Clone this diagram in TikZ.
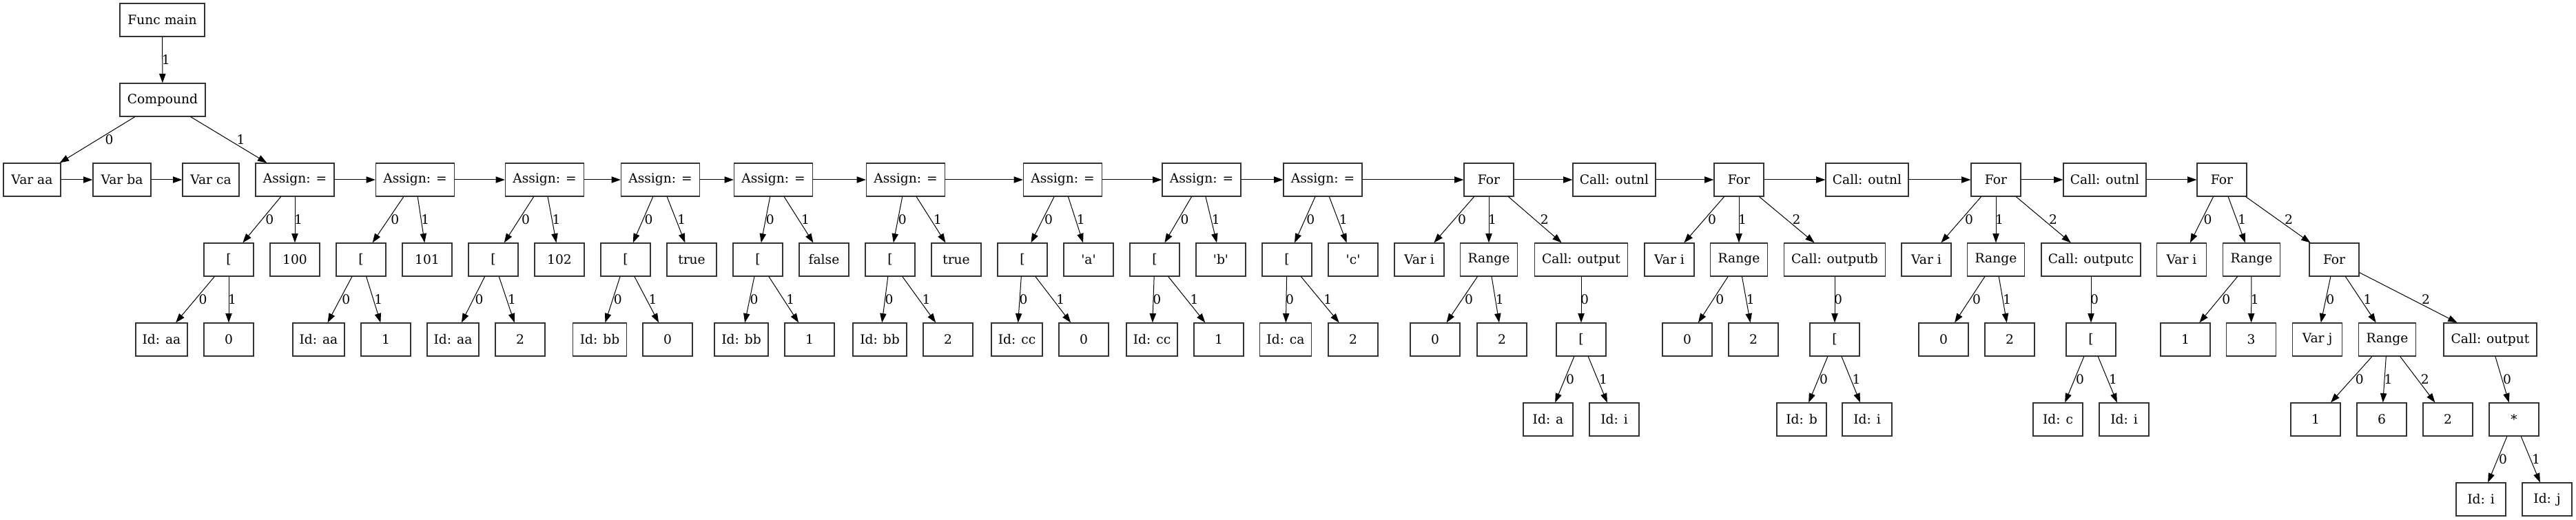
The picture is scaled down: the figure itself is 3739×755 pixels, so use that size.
\documentclass[tikz,border=0pt]{standalone}
\usepackage{fontspec}
\setmainfont{DejaVu Serif}[Ligatures=TeXOff]
\usetikzlibrary{arrows.meta,calc}
\tikzset{
  bx/.style={draw=black!80, line width=0.9pt, minimum height=36pt, minimum width={#1*0.75pt}, inner sep=0pt, font=\fontsize{14}{16}\selectfont},
  bx/.default=72,
  con/.style={draw=black, line width=0.75pt, -{Triangle[length=10pt,width=7pt]}},
  lab/.style={font=\fontsize{14}{16}\selectfont, inner sep=0pt},
}
\newcommand\nd[5]{\node[bx=#4] (#1) at (#2,#3) {#5};}
\newcommand\ed[3]{\draw[con] (#1) -- (#2);
  \path let \p1=(#1.center), \p2=(#2.center) in
    node[lab, xshift={3.75pt+0.065*abs(\x2-\x1)}] at ($(\p1)!0.5!(\p2)$) {#3};}
\newcommand\ch[2]{\draw[con] (#1) -- (#2);}
\begin{document}
\begin{tikzpicture}[x=0.75pt,y=-0.75pt]
\useasboundingbox (0,0) rectangle (3739,755);
% row 0,1
\nd{fm}{235.5}{29}{123}{Func main}
\nd{cmp}{236}{145}{124}{Compound}
% row 2
\nd{va}{46.5}{261}{83}{Var aa}
\nd{vb}{177}{261}{84}{Var ba}
\nd{vc}{306}{261}{82}{Var ca}
\nd{a1}{428}{261}{114}{Assign: =}
\nd{a2}{602.5}{261}{114}{Assign: =}
\nd{a3}{790.5}{261}{114}{Assign: =}
\nd{a4}{958.5}{261}{114}{Assign: =}
\nd{a5}{1122.5}{261}{114}{Assign: =}
\nd{a6}{1314.5}{261}{114}{Assign: =}
\nd{a7}{1542.5}{261}{114}{Assign: =}
\nd{a8}{1744}{261}{114}{Assign: =}
\nd{a9}{1920}{261}{114}{Assign: =}
\nd{f1}{2161}{261}{72}{For}
\nd{c1}{2343}{261}{120}{Call: outnl}
\nd{f2}{2524}{261}{72}{For}
\nd{c2}{2710}{261}{120}{Call: outnl}
\nd{f3}{2897}{261}{72}{For}
\nd{c3}{3055}{261}{120}{Call: outnl}
\nd{f4}{3225}{261}{72}{For}
% row 3
\nd{b1}{332}{377}{72}{[}
\nd{n100}{428}{377}{72}{100}
\nd{b2}{524}{377}{72}{[}
\nd{n101}{620}{377}{72}{101}
\nd{b3}{716}{377}{72}{[}
\nd{n102}{812}{377}{72}{102}
\nd{b4}{908}{377}{72}{[}
\nd{t1}{1004}{377}{72}{true}
\nd{b5}{1100}{377}{72}{[}
\nd{fl}{1196}{377}{72}{false}
\nd{b6}{1292}{377}{72}{[}
\nd{t2}{1388}{377}{72}{true}
\nd{b7}{1484}{377}{72}{[}
\nd{qa}{1580}{377}{72}{'a'}
\nd{b8}{1676}{377}{72}{[}
\nd{qb}{1772}{377}{72}{'b'}
\nd{b9}{1868}{377}{72}{[}
\nd{qc}{1964}{377}{72}{'c'}
\nd{vi1}{2060}{377}{72}{Var i}
\nd{r1}{2161}{377}{83}{Range}
\nd{co1}{2295}{377}{135}{Call: output}
\nd{vi2}{2423}{377}{72}{Var i}
\nd{r2}{2524}{377}{83}{Range}
\nd{co2}{2663}{377}{147}{Call: outputb}
\nd{vi3}{2796}{377}{72}{Var i}
\nd{r3}{2897}{377}{83}{Range}
\nd{co3}{3035}{377}{144}{Call: outputc}
\nd{vi4}{3166.5}{377}{72}{Var i}
\nd{r4}{3268}{377}{83}{Range}
\nd{f5}{3388}{377}{72}{For}
% row 4
\nd{i1}{234.5}{493}{75}{Id: aa}
\nd{z1}{332}{493}{72}{0}
\nd{i2}{462.5}{493}{75}{Id: aa}
\nd{o2}{560}{493}{72}{1}
\nd{i3}{657.5}{493}{75}{Id: aa}
\nd{t3}{755}{493}{72}{2}
\nd{i4}{870.5}{493}{78}{Id: bb}
\nd{z4}{969}{493}{72}{0}
\nd{i5}{1076}{493}{78}{Id: bb}
\nd{o5}{1175}{493}{72}{1}
\nd{i6}{1277}{493}{78}{Id: bb}
\nd{t6}{1376}{493}{72}{2}
\nd{i7}{1476}{493}{74}{Id: cc}
\nd{z7}{1573}{493}{72}{0}
\nd{i8}{1672}{493}{74}{Id: cc}
\nd{o8}{1769}{493}{72}{1}
\nd{i9}{1866}{493}{75}{Id: ca}
\nd{t9}{1964}{493}{72}{2}
\nd{rz1}{2083}{493}{72}{0}
\nd{rt1}{2180}{493}{72}{2}
\nd{bo1}{2295}{493}{72}{[}
\nd{rz2}{2449}{493}{72}{0}
\nd{rt2}{2545}{493}{72}{2}
\nd{bo2}{2663}{493}{72}{[}
\nd{rz3}{2821}{493}{72}{0}
\nd{rt3}{2917}{493}{72}{2}
\nd{bo3}{3035}{493}{72}{[}
\nd{ro4}{3172}{493}{72}{1}
\nd{rh4}{3267.5}{493}{72}{3}
\nd{vj}{3363.5}{493}{72}{Var j}
\nd{r5}{3465}{493}{83}{Range}
\nd{co4}{3614.5}{493}{135}{Call: output}
% row 5
\nd{ia}{2247}{609}{72}{Id: a}
\nd{ii1}{2343}{609}{72}{Id: i}
\nd{ib}{2615}{609}{72}{Id: b}
\nd{ii2}{2710}{609}{72}{Id: i}
\nd{ic}{2987}{609}{72}{Id: c}
\nd{ii3}{3083}{609}{72}{Id: i}
\nd{s1}{3361}{609}{72}{1}
\nd{s6}{3457}{609}{72}{6}
\nd{s2}{3553}{609}{72}{2}
\nd{mul}{3649}{609}{72}{*}
% row 6
\nd{iI}{3601}{725}{72}{Id: i}
\nd{iJ}{3697}{725}{72}{Id: j}
% edges
\ed{fm}{cmp}{1}
\ed{cmp}{va}{0}
\ed{cmp}{a1}{1}
\ch{va}{vb}\ch{vb}{vc}
\ch{a1}{a2}\ch{a2}{a3}\ch{a3}{a4}\ch{a4}{a5}\ch{a5}{a6}\ch{a6}{a7}\ch{a7}{a8}\ch{a8}{a9}
\ch{a9}{f1}\ch{f1}{c1}\ch{c1}{f2}\ch{f2}{c2}\ch{c2}{f3}\ch{f3}{c3}\ch{c3}{f4}
\ed{a1}{b1}{0}\ed{a1}{n100}{1}\ed{b1}{i1}{0}\ed{b1}{z1}{1}
\ed{a2}{b2}{0}\ed{a2}{n101}{1}\ed{b2}{i2}{0}\ed{b2}{o2}{1}
\ed{a3}{b3}{0}\ed{a3}{n102}{1}\ed{b3}{i3}{0}\ed{b3}{t3}{1}
\ed{a4}{b4}{0}\ed{a4}{t1}{1}\ed{b4}{i4}{0}\ed{b4}{z4}{1}
\ed{a5}{b5}{0}\ed{a5}{fl}{1}\ed{b5}{i5}{0}\ed{b5}{o5}{1}
\ed{a6}{b6}{0}\ed{a6}{t2}{1}\ed{b6}{i6}{0}\ed{b6}{t6}{1}
\ed{a7}{b7}{0}\ed{a7}{qa}{1}\ed{b7}{i7}{0}\ed{b7}{z7}{1}
\ed{a8}{b8}{0}\ed{a8}{qb}{1}\ed{b8}{i8}{0}\ed{b8}{o8}{1}
\ed{a9}{b9}{0}\ed{a9}{qc}{1}\ed{b9}{i9}{0}\ed{b9}{t9}{1}
\ed{f1}{vi1}{0}\ed{f1}{r1}{1}\ed{f1}{co1}{2}
\ed{r1}{rz1}{0}\ed{r1}{rt1}{1}\ed{co1}{bo1}{0}
\ed{bo1}{ia}{0}\ed{bo1}{ii1}{1}
\ed{f2}{vi2}{0}\ed{f2}{r2}{1}\ed{f2}{co2}{2}
\ed{r2}{rz2}{0}\ed{r2}{rt2}{1}\ed{co2}{bo2}{0}
\ed{bo2}{ib}{0}\ed{bo2}{ii2}{1}
\ed{f3}{vi3}{0}\ed{f3}{r3}{1}\ed{f3}{co3}{2}
\ed{r3}{rz3}{0}\ed{r3}{rt3}{1}\ed{co3}{bo3}{0}
\ed{bo3}{ic}{0}\ed{bo3}{ii3}{1}
\ed{f4}{vi4}{0}\ed{f4}{r4}{1}\ed{f4}{f5}{2}
\ed{r4}{ro4}{0}\ed{r4}{rh4}{1}
\ed{f5}{vj}{0}\ed{f5}{r5}{1}\ed{f5}{co4}{2}
\ed{r5}{s1}{0}\ed{r5}{s6}{1}\ed{r5}{s2}{2}
\ed{co4}{mul}{0}
\ed{mul}{iI}{0}\ed{mul}{iJ}{1}
\end{tikzpicture}
\end{document}
